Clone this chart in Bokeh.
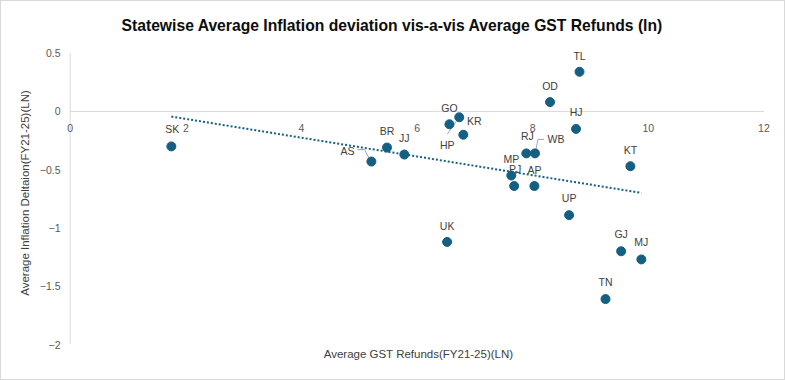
import numpy as np
from bokeh.plotting import figure
from bokeh.models import Range1d, FixedTicker, LinearAxis, ColumnDataSource
from bokeh.core.properties import value
from bokeh.embed import file_html
from bokeh.resources import INLINE

# ---- data ----
states = ["SK", "AS", "BR", "JJ", "GO", "HP", "KR", "RJ", "WB", "MP", "PJ",
          "AP", "OD", "HJ", "TL", "KT", "UP", "UK", "GJ", "MJ", "TN"]
gst_refunds = [1.75, 5.21, 5.48, 5.78, 6.56, 6.73, 6.80, 7.89, 8.04, 7.63, 7.68,
               8.03, 8.30, 8.75, 8.81, 9.69, 8.63, 6.52, 9.53, 9.88, 9.26]
inflation_dev = [-0.30, -0.43, -0.31, -0.37, -0.11, -0.05, -0.20, -0.36, -0.36, -0.55, -0.64,
                 -0.64, 0.08, -0.15, 0.34, -0.47, -0.89, -1.12, -1.20, -1.27, -1.61]
x_ticks = [0, 2, 4, 6, 8, 10, 12]
y_ticks = [-2, -1.5, -1, -0.5, 0, 0.5]

# label placement (pixels, style only; dy positive = downward)
lab_dx = [1, -24, 0, 0, 0, -12, 11, 1, 21, 0, 1, 0, 0, 0, 0, 0, 0, 0, 0, 0, 0]
lab_dy = [-17, -11, -17, -17, -16, 28, -14, -17, -14, -17, -17, -16, -16, -17, -16, -16, -17, -16, -17, -17, -17]

COL = "#156082"
GRID = "#D9D9D9"
FONT = "Liberation Sans"

W, H = 785, 380
FL, FR, FT, FB = 60, 11, 40, 37
XMIN, XMAX = min(x_ticks), max(x_ticks)
YMIN, YMAX = min(y_ticks), max(y_ticks)
p = figure(width=W, height=H, output_backend="svg", toolbar_location=None,
           x_range=Range1d(XMIN - 0.15, XMAX + 0.2), y_range=Range1d(YMIN, YMAX + 0.1),
           x_axis_type=None, y_axis_type=None,
           min_border_left=FL, min_border_right=FR, min_border_top=FT, min_border_bottom=FB,
           background_fill_color="white", border_fill_color="white")
p.outline_line_color = None
p.grid.visible = False
p.styles = {"border": "1px solid #D9D9D9", "box-sizing": "border-box"}

p.title.text = "Statewise Average Inflation deviation vis-a-vis Average GST Refunds (ln)"
p.title.align = "left"
p.title.offset = 60
p.title.standoff = 16
p.title.text_font = FONT
p.title.text_font_size = "15.7px"
p.title.text_font_style = "bold"
p.title.text_color = "#0D0D0D"

# y axis (labels + title); the axis line itself is drawn at x=0
ya = LinearAxis(ticker=FixedTicker(ticks=y_ticks))
ya.axis_line_color = None
ya.major_tick_line_color = None
ya.minor_tick_line_color = None
ya.major_tick_out = 0
ya.major_label_standoff = 1
ya.major_label_text_font = FONT
ya.major_label_text_font_size = "10.5px"
ya.major_label_text_color = "#595959"
ya.axis_label = "Average Inflation Deltaion(FY21-25)(LN)"
ya.axis_label_text_font = FONT
ya.axis_label_text_font_size = "11.5px"
ya.axis_label_text_font_style = "normal"
ya.axis_label_text_color = "#404040"
ya.axis_label_standoff = 6
p.add_layout(ya, "left")

# x axis (title only)
xa = LinearAxis(ticker=FixedTicker(ticks=[]))
xa.axis_line_color = None
xa.major_tick_line_color = None
xa.minor_tick_line_color = None
xa.major_tick_out = 0
xa.major_label_text_font_size = "0px"
xa.axis_label = "Average GST Refunds(FY21-25)(LN)"
xa.axis_label_text_font = FONT
xa.axis_label_text_font_size = "11.5px"
xa.axis_label_text_font_style = "normal"
xa.axis_label_text_color = "#404040"
xa.axis_label_standoff = 3
p.add_layout(xa, "below")

# axis lines: vertical at x=0, horizontal at y=0
p.segment(x0=[XMIN, XMIN], y0=[YMIN, 0], x1=[XMIN, XMAX], y1=[YMAX, 0],
          line_color=GRID, line_width=1)
# x tick labels along y=0
p.text(x=x_ticks, y=[0] * len(x_ticks), text=[str(t) for t in x_ticks],
       text_align="center", text_baseline="middle", y_offset=17,
       text_font=value(FONT), text_font_size="10.5px", text_color="#595959")

# trendline (least squares)
xa_ = np.array(gst_refunds)
ya_ = np.array(inflation_dev)
m, b = np.polyfit(xa_, ya_, 1)
tx = np.array([xa_.min(), xa_.max()])
p.line(tx, m * tx + b, line_color=COL, line_width=2, line_dash="2 2")

# leader lines (pixel offsets converted to data units)
sx = (W - FL - FR) / (XMAX + 0.2 - (XMIN - 0.15))
sy = (H - FT - FB) / (YMAX + 0.1 - YMIN)
def leader(i, pts):
    xs = [gst_refunds[i] + dx / sx for dx, dy in pts]
    ys = [inflation_dev[i] - dy / sy for dx, dy in pts]
    return xs, ys
lx, ly = [], []
for name, pts in [("AS", [(-14, -12), (-7, -12), (-2, -3)]),
                  ("HP", [(-12, 17), (-3, 4)]),
                  ("WB", [(9, -14), (3, -14), (1, -4)])]:
    a, c = leader(states.index(name), pts)
    lx.append(a); ly.append(c)
p.multi_line(lx, ly, line_color="#A6A6A6", line_width=1)

src = ColumnDataSource(dict(x=gst_refunds, y=inflation_dev, s=states, dx=lab_dx, dy=lab_dy))
p.scatter("x", "y", source=src, size=9, fill_color=COL, line_color=COL)
p.text("x", "y", text="s", source=src, x_offset="dx", y_offset="dy",
       text_align="center", text_baseline="middle",
       text_font=value(FONT), text_font_size="10.5px", text_color="#404040")

open("out.html", "w").write(file_html(p, INLINE))
